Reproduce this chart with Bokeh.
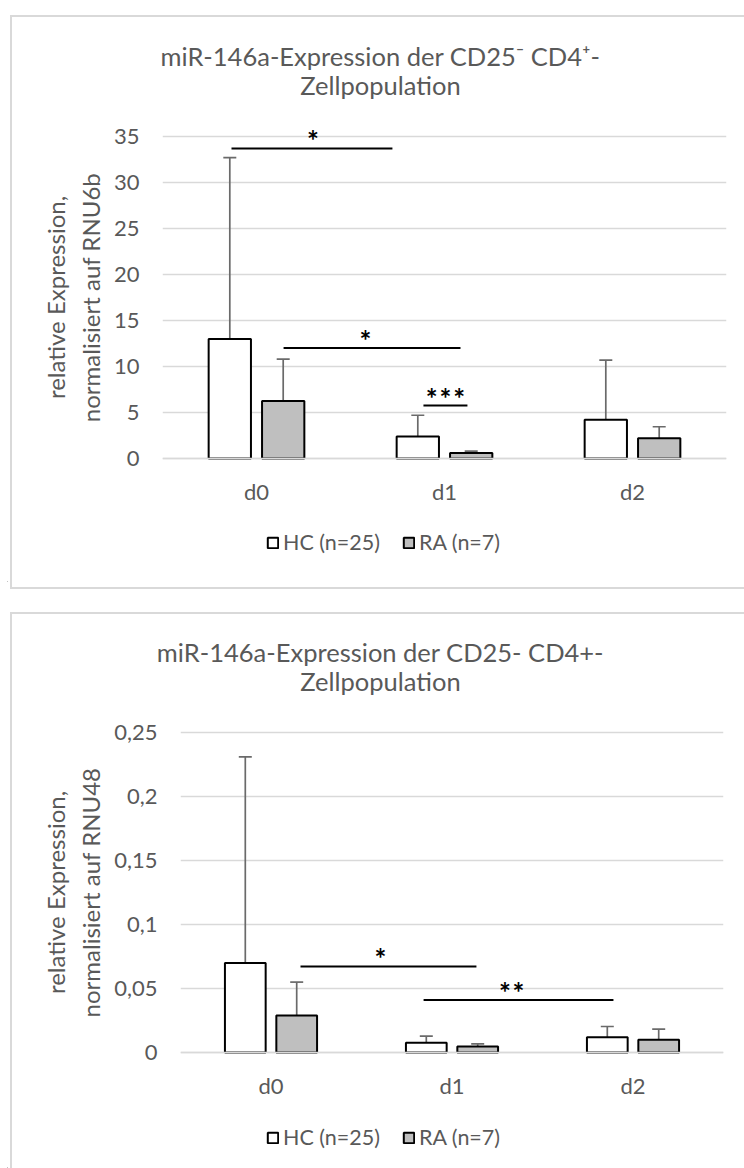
from bokeh.plotting import figure
from bokeh.models import (ColumnDataSource, FactorRange, Range1d, Whisker, TeeHead,
                          Label, Legend, LegendItem, FixedTicker, Span, Div)
from bokeh.transform import dodge
from bokeh.embed import file_html
from bokeh.resources import INLINE
from bokeh.core.properties import value

# ---------------- data ----------------
CATEGORIES = ["d0", "d1", "d2"]
SERIES = ["HC (n=25)", "RA (n=7)"]

# chart 1: normalised to RNU6b
RNU6B_HC_MEAN = [13.0, 2.4, 4.2]
RNU6B_HC_UPPER = [32.7, 4.7, 10.7]
RNU6B_RA_MEAN = [6.25, 0.6, 2.2]
RNU6B_RA_UPPER = [10.8, 0.8, 3.45]
RNU6B_TICKS = [0, 5, 10, 15, 20, 25, 30, 35]
RNU6B_TICK_LABELS = ["0", "5", "10", "15", "20", "25", "30", "35"]
RNU6B_SIG_FROM = [0.367, 0.644, 1.388]
RNU6B_SIG_TO = [1.223, 1.585, 1.622]
RNU6B_SIG_LEVEL = [33.7, 12.0, 5.75]
RNU6B_SIG_TEXT = ["*", "*", "*\u200a*\u200a*"]
RNU6B_SIG_TEXT_X = [0.80, 1.08, 1.505]

# chart 2: normalised to RNU48
RNU48_HC_MEAN = [0.070, 0.0076, 0.012]
RNU48_HC_UPPER = [0.231, 0.0128, 0.0203]
RNU48_RA_MEAN = [0.029, 0.0047, 0.0099]
RNU48_RA_UPPER = [0.055, 0.0068, 0.0182]
RNU48_TICKS = [0, 0.05, 0.1, 0.15, 0.2, 0.25]
RNU48_TICK_LABELS = ["0", "0,05", "0,1", "0,15", "0,2", "0,25"]
RNU48_SIG_FROM = [0.663, 1.343]
RNU48_SIG_TO = [1.635, 2.392]
RNU48_SIG_LEVEL = [0.0672, 0.0411]
RNU48_SIG_TEXT = ["*", "*\u200a*"]
RNU48_SIG_TEXT_X = [1.105, 1.83]

TITLE_1 = ["miR-146a-Expression der CD25\u207b CD4\u207a-", "Zellpopulation"]
TITLE_2 = ["miR-146a-Expression der CD25- CD4+-", "Zellpopulation"]
YLABEL_1 = "relative Expression,\nnormalisiert auf RNU6b"
YLABEL_2 = "relative Expression,\nnormalisiert auf RNU48"

FONT = "Lato"
TEXT_GREY = "#595959"
GRID_GREY = "#d9d9d9"
ERR_GREY = "#6a6a6a"
BORDER = "2px solid #d9d9d9"
CANVAS_W = 737
CANVAS_X = 7


def place(p, top):
    p.styles = {"position": "absolute", "left": f"{CANVAS_X}px", "top": f"{top}px"}


def chart_box(top, height, sides):
    st = {"position": "absolute", "left": f"{CANVAS_X - 2}px", "top": f"{top}px",
          "box-sizing": "border-box", "pointer-events": "none", "z-index": "10",
          "background": "transparent"}
    for s in sides:
        st[f"border-{s}"] = BORDER
    return Div(text="", width=CANVAS_W + 2, height=height, styles=st)


def blank_figure(h):
    p = figure(width=CANVAS_W, height=h, x_range=Range1d(0, CANVAS_W), y_range=Range1d(0, h),
               output_backend="svg", toolbar_location=None, title=None,
               x_axis_location=None, y_axis_location=None, min_border=0)
    p.grid.visible = False
    p.outline_line_color = None
    p.background_fill_color = "white"
    p.border_fill_color = "white"
    return p


def make_header(title_lines, g):
    top, h = g["header"]
    p = blank_figure(h)
    for txt, ay in zip(title_lines, g["title_y"]):
        p.add_layout(Label(x=g["title_x"] - CANVAS_X, y=top + h - ay, text=txt, text_font=FONT,
                           text_font_size="25.5px", text_color=TEXT_GREY, text_align="center",
                           text_baseline="middle"))
    return p


def make_footer(g):
    top, h = g["footer"]
    p = blank_figure(h)
    # legend swatches (kept outside the visible range; only their legend glyphs show)
    r_hc = p.vbar(x=[-50], top=[0], width=1, fill_color="white", line_color="black", line_width=2)
    r_ra = p.vbar(x=[-50], top=[0], width=1, fill_color="#bfbfbf", line_color="black", line_width=2)
    legend = Legend(items=[LegendItem(label=SERIES[0], renderers=[r_hc]),
                           LegendItem(label=SERIES[1], renderers=[r_ra])],
                    orientation="horizontal",
                    location=(g["legend_left"] - CANVAS_X, top + h - g["legend_y"] - 13),
                    glyph_width=13, glyph_height=13, label_standoff=4, spacing=22,
                    padding=0, margin=0, border_line_color=None, background_fill_alpha=0,
                    label_text_font=FONT, label_text_font_size="21.5px",
                    label_text_color=TEXT_GREY, label_height=26)
    p.add_layout(legend)
    return p


def make_main(hc, hc_up, ra, ra_up, ticks, tick_labels, sig_from, sig_to, sig_level,
              sig_text, sig_text_x, ylabel, g):
    fl, fr, ft, fb = g["frame"]
    top, h = g["main"]
    zero, ppu = g["zero"], g["ppu"]

    p = figure(width=CANVAS_W, height=h, x_range=FactorRange(*CATEGORIES, range_padding=0),
               y_range=Range1d((zero - fb) / ppu, (zero - ft) / ppu), output_backend="svg",
               toolbar_location=None, title=None,
               min_border_left=fl - CANVAS_X, min_border_right=CANVAS_X + CANVAS_W - fr,
               min_border_top=ft - top, min_border_bottom=top + h - fb)
    p.outline_line_color = None
    p.background_fill_color = "white"
    p.border_fill_color = "white"

    src = ColumnDataSource(dict(cat=CATEGORIES, hc=hc, hc_up=hc_up, ra=ra, ra_up=ra_up))
    off, bw = 0.142, 0.225
    p.vbar(x=dodge("cat", -off, range=p.x_range), top="hc", width=bw, source=src,
           fill_color="white", line_color="black", line_width=2)
    p.vbar(x=dodge("cat", off, range=p.x_range), top="ra", width=bw, source=src,
           fill_color="#bfbfbf", line_color="black", line_width=2)
    for col, up, sh in (("hc", "hc_up", -off), ("ra", "ra_up", off)):
        w = Whisker(source=src, base=dodge("cat", sh, range=p.x_range), lower=col, upper=up,
                    line_color=ERR_GREY, line_width=1.7,
                    upper_head=TeeHead(size=13, line_color=ERR_GREY, line_width=1.7),
                    lower_head=None)
        p.add_layout(w)
    # category axis line at zero, drawn over the bar bases as in the original
    p.add_layout(Span(location=0, dimension="width", line_color=GRID_GREY, line_width=1.5,
                      level="overlay"))

    sig = ColumnDataSource(dict(x0=sig_from, x1=sig_to, y=sig_level, t=sig_text, tx=sig_text_x))
    p.segment(x0="x0", y0="y", x1="x1", y1="y", source=sig, line_color="black", line_width=2)
    p.text(x="tx", y="y", text="t", source=sig, text_font=value(FONT), text_font_size="28px",
           text_font_style="bold", text_color="black", text_align="center",
           text_baseline="alphabetic", y_offset=-8)

    p.yaxis.ticker = FixedTicker(ticks=ticks)
    p.yaxis.major_label_overrides = {t: l for t, l in zip(ticks, tick_labels)}
    p.yaxis.axis_line_color = None
    p.yaxis.major_tick_line_color = None
    p.yaxis.major_tick_out = 0
    p.yaxis.minor_tick_line_color = None
    p.yaxis.minor_tick_out = 0
    p.yaxis.major_label_standoff = 23
    p.yaxis.major_label_text_font = FONT
    p.yaxis.major_label_text_font_size = "22px"
    p.yaxis.major_label_text_color = TEXT_GREY
    p.yaxis.axis_label = ylabel
    p.yaxis.axis_label_text_font = FONT
    p.yaxis.axis_label_text_font_size = "24px"
    p.yaxis.axis_label_text_font_style = "normal"
    p.yaxis.axis_label_text_color = TEXT_GREY
    p.yaxis.axis_label_text_line_height = 1.2
    p.yaxis.axis_label_standoff = 6
    p.ygrid.ticker = FixedTicker(ticks=ticks)
    p.ygrid.grid_line_color = GRID_GREY
    p.ygrid.grid_line_width = 1.3
    p.xgrid.visible = False
    p.xaxis.axis_line_color = None
    p.xaxis.major_tick_line_color = None
    p.xaxis.major_tick_out = 0
    p.xaxis.minor_tick_line_color = None
    p.xaxis.minor_tick_out = 0
    p.xaxis.major_label_standoff = g["xlabel_standoff"]
    p.xaxis.major_label_text_font = FONT
    p.xaxis.major_label_text_font_size = "22px"
    p.xaxis.major_label_text_color = TEXT_GREY
    return p


# layout in page pixels (canvas starts at x = 7)
G1 = dict(header=(12, 98), main=(110, 400), footer=(510, 72), box=(10, 574),
          frame=(162, 726, 118, 476), zero=458, ppu=9.2, xlabel_standoff=1,
          title_x=380, title_y=(55, 84), legend_left=266, legend_y=542)
G2 = dict(header=(609, 103), main=(712, 393), footer=(1105, 63), box=(607, 561),
          frame=(180, 723, 726, 1058), zero=1052, ppu=1280, xlabel_standoff=13,
          title_x=380, title_y=(651, 680), legend_left=266, legend_y=1137)

h1 = make_header(TITLE_1, G1)
m1 = make_main(RNU6B_HC_MEAN, RNU6B_HC_UPPER, RNU6B_RA_MEAN, RNU6B_RA_UPPER, RNU6B_TICKS,
               RNU6B_TICK_LABELS, RNU6B_SIG_FROM, RNU6B_SIG_TO, RNU6B_SIG_LEVEL,
               RNU6B_SIG_TEXT, RNU6B_SIG_TEXT_X, YLABEL_1, G1)
f1 = make_footer(G1)
h2 = make_header(TITLE_2, G2)
m2 = make_main(RNU48_HC_MEAN, RNU48_HC_UPPER, RNU48_RA_MEAN, RNU48_RA_UPPER, RNU48_TICKS,
               RNU48_TICK_LABELS, RNU48_SIG_FROM, RNU48_SIG_TO, RNU48_SIG_LEVEL,
               RNU48_SIG_TEXT, RNU48_SIG_TEXT_X, YLABEL_2, G2)
f2 = make_footer(G2)

for fig, g, key in ((h1, G1, "header"), (m1, G1, "main"), (f1, G1, "footer"),
                    (h2, G2, "header"), (m2, G2, "main"), (f2, G2, "footer")):
    place(fig, g[key][0])

box1 = chart_box(*G1["box"], ["left", "top", "bottom"])
box2 = chart_box(*G2["box"], ["left", "top"])

open("out.html", "w").write(file_html([h1, m1, f1, h2, m2, f2, box1, box2], INLINE))
